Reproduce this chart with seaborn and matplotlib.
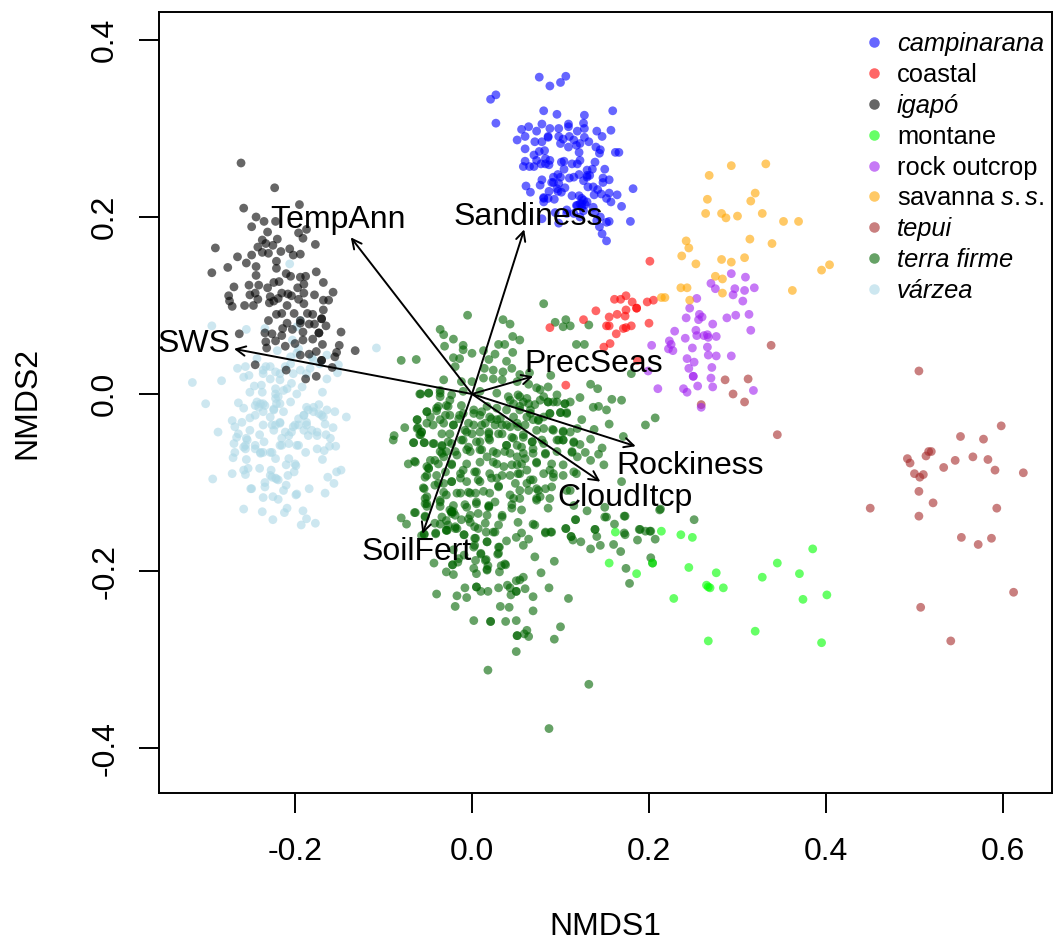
import pandas as pd
import matplotlib
matplotlib.use("Agg")
import matplotlib.pyplot as plt
import seaborn as sns

# punti (NMDS1, NMDS2)
campinarana = [(0.076,0.358),(0.088,0.348),(0.100,0.352),(0.106,0.359),(0.027,0.338),(0.021,0.333),(0.027,0.306),(0.081,0.320),(0.096,0.316),(0.127,0.315),(0.159,0.320),(0.079,0.305),(0.126,0.306),(0.109,0.305),(0.056,0.299),(0.064,0.302),(0.073,0.297),(0.088,0.300),(0.098,0.300),(0.109,0.302),(0.127,0.300),(0.141,0.297),(0.157,0.298),(0.051,0.287),(0.060,0.291),(0.071,0.285),(0.079,0.285),(0.086,0.290),(0.098,0.291),(0.110,0.291),(0.119,0.297),(0.147,0.291),(0.127,0.290),(0.132,0.285),(0.100,0.283),(0.109,0.279),(0.118,0.281),(0.140,0.279),(0.060,0.277),(0.076,0.274),(0.082,0.275),(0.145,0.276),(0.162,0.273),(0.166,0.273),(0.070,0.270),(0.121,0.273),(0.060,0.263),(0.083,0.266),(0.144,0.272),(0.058,0.257),(0.065,0.257),(0.070,0.257),(0.078,0.260),(0.087,0.259),(0.101,0.262),(0.104,0.263),(0.113,0.260),(0.119,0.260),(0.139,0.262),(0.104,0.254),(0.136,0.254),(0.150,0.254),(0.121,0.248),(0.097,0.248),(0.092,0.245),(0.110,0.244),(0.079,0.242),(0.130,0.245),(0.148,0.244),(0.155,0.242),(0.077,0.236),(0.092,0.239),(0.098,0.238),(0.105,0.233),(0.148,0.239),(0.061,0.235),(0.066,0.228),(0.131,0.234),(0.137,0.234),(0.182,0.232),(0.087,0.229),(0.097,0.229),(0.142,0.231),(0.146,0.226),(0.164,0.225),(0.081,0.222),(0.093,0.220),(0.113,0.224),(0.121,0.224),(0.155,0.227),(0.138,0.225),(0.152,0.221),(0.081,0.217),(0.126,0.219),(0.157,0.217),(0.169,0.212),(0.107,0.208),(0.118,0.213),(0.124,0.211),(0.137,0.211),(0.094,0.205),(0.139,0.205),(0.079,0.198),(0.107,0.204),(0.115,0.204),(0.126,0.207),(0.141,0.196),(0.155,0.195),(0.179,0.195),(0.098,0.193),(0.122,0.200),(0.144,0.189),(0.147,0.181),(0.152,0.173),(0.086,0.291),(0.130,0.247),(0.124,0.215),(0.119,0.213),(0.128,0.214),
    (0.103,0.288),(0.115,0.287),(0.122,0.283),(0.088,0.264),(0.122,0.264),(0.073,0.264),(0.100,0.245),(0.096,0.232),(0.101,0.228),(0.126,0.241),(0.133,0.247),(0.122,0.215),(0.130,0.217),(0.124,0.221),(0.145,0.200),(0.152,0.194),(0.081,0.221),(0.086,0.221),(0.115,0.245),(0.130,0.253),(0.083,0.260),(0.090,0.239)]
coastal = [(0.201,0.150),(0.161,0.107),(0.168,0.107),(0.174,0.111),(0.181,0.104),(0.198,0.104),(0.205,0.106),(0.140,0.094),(0.174,0.095),(0.186,0.097),(0.186,0.097),(0.164,0.090),(0.155,0.087),(0.173,0.088),(0.126,0.084),(0.152,0.077),(0.155,0.077),(0.171,0.074),(0.174,0.075),(0.180,0.077),(0.200,0.080),(0.088,0.075),(0.163,0.068),(0.156,0.057),(0.149,0.053),(0.187,0.038),(0.106,0.010)]
igapo = [(-0.261,0.261),(-0.223,0.233),(-0.258,0.210),(-0.195,0.214),(-0.244,0.200),(-0.235,0.195),(-0.222,0.195),(-0.249,0.189),(-0.196,0.182),(-0.187,0.186),(-0.191,0.176),(-0.231,0.183),(-0.237,0.174),(-0.220,0.175),(-0.177,0.169),(-0.290,0.165),(-0.242,0.166),(-0.233,0.170),(-0.225,0.168),(-0.265,0.155),(-0.249,0.157),(-0.237,0.160),(-0.230,0.159),(-0.216,0.161),(-0.206,0.164),(-0.194,0.158),(-0.202,0.157),(-0.221,0.150),(-0.255,0.148),(-0.276,0.143),(-0.294,0.137),(-0.244,0.144),(-0.244,0.134),(-0.221,0.142),(-0.210,0.136),(-0.205,0.133),(-0.176,0.138),(-0.188,0.133),(-0.194,0.132),(-0.168,0.126),(-0.269,0.121),(-0.252,0.123),(-0.241,0.123),(-0.231,0.120),(-0.218,0.127),(-0.224,0.126),(-0.190,0.124),(-0.197,0.120),(-0.215,0.114),(-0.208,0.113),(-0.157,0.115),(-0.275,0.111),(-0.251,0.112),(-0.245,0.114),(-0.228,0.110),(-0.190,0.114),(-0.178,0.112),(-0.274,0.105),(-0.242,0.107),(-0.229,0.103),(-0.219,0.108),(-0.204,0.111),(-0.196,0.107),(-0.168,0.106),(-0.162,0.106),(-0.190,0.102),(-0.271,0.099),(-0.257,0.100),(-0.247,0.100),(-0.224,0.105),(-0.209,0.100),(-0.168,0.095),(-0.221,0.090),(-0.215,0.091),(-0.201,0.091),(-0.186,0.091),(-0.180,0.090),(-0.170,0.085),(-0.170,0.085),(-0.230,0.083),(-0.194,0.083),(-0.209,0.080),(-0.184,0.079),(-0.178,0.079),(-0.165,0.077),(-0.214,0.074),(-0.194,0.080),(-0.148,0.070),(-0.263,0.068),(-0.234,0.069),(-0.226,0.068),(-0.215,0.066),(-0.203,0.073),(-0.191,0.070),(-0.173,0.069),(-0.173,0.069),(-0.222,0.060),(-0.233,0.059),(-0.191,0.061),(-0.180,0.062),(-0.169,0.056),(-0.150,0.055),(-0.132,0.049),(-0.211,0.054),(-0.232,0.052),(-0.200,0.057),(-0.176,0.048),(-0.153,0.047),(-0.194,0.044),(-0.184,0.045),(-0.155,0.042),(-0.170,0.038),(-0.170,0.038),(-0.245,0.033),(-0.158,0.030),(-0.210,0.027),(-0.176,0.020),(-0.188,0.017)]
montane = [(0.162,-0.156),(0.214,-0.155),(0.236,-0.159),(0.249,-0.162),(0.385,-0.175),(0.155,-0.191),(0.345,-0.191),(0.370,-0.203),(0.186,-0.203),(0.245,-0.196),(0.276,-0.202),(0.328,-0.207),(0.265,-0.216),(0.267,-0.218),(0.269,-0.219),(0.284,-0.219),(0.228,-0.231),(0.401,-0.227),(0.374,-0.232),(0.320,-0.268),(0.267,-0.279),(0.395,-0.281),(0.204,-0.191)]
rock_outcrop = [(0.293,0.136),(0.309,0.132),(0.270,0.125),(0.275,0.119),(0.297,0.119),(0.308,0.117),(0.319,0.120),(0.295,0.112),(0.306,0.105),(0.254,0.108),(0.246,0.097),(0.257,0.090),(0.256,0.084),(0.260,0.087),(0.242,0.086),(0.288,0.086),(0.298,0.089),(0.313,0.090),(0.272,0.079),(0.253,0.072),(0.315,0.072),(0.229,0.071),(0.254,0.066),(0.262,0.066),(0.266,0.067),(0.276,0.065),(0.267,0.064),(0.241,0.063),(0.223,0.060),(0.225,0.056),(0.203,0.055),(0.249,0.052),(0.266,0.053),(0.222,0.051),(0.227,0.049),(0.267,0.044),(0.276,0.043),(0.293,0.043),(0.243,0.040),(0.251,0.036),(0.271,0.030),(0.245,0.029),(0.199,0.026),(0.250,0.020),(0.250,0.020),(0.270,0.018),(0.255,0.009),(0.272,0.008),(0.210,0.006),(0.239,0.006),(0.243,0.002),(0.318,0.004),(0.259,-0.015)]
savanna = [(0.332,0.260),(0.293,0.258),(0.268,0.247),(0.320,0.227),(0.266,0.220),(0.315,0.218),(0.264,0.204),(0.282,0.204),(0.287,0.199),(0.300,0.201),(0.328,0.204),(0.352,0.195),(0.369,0.195),(0.314,0.175),(0.339,0.170),(0.242,0.173),(0.245,0.165),(0.237,0.156),(0.253,0.147),(0.282,0.152),(0.293,0.149),(0.308,0.154),(0.275,0.133),(0.283,0.130),(0.404,0.146),(0.395,0.140),(0.362,0.117),(0.283,0.114),(0.236,0.120),(0.243,0.120),(0.246,0.106),(0.214,0.109),(0.218,0.109)]
tepui = [(0.338,0.055),(0.286,0.016),(0.312,0.017),(0.295,0.000),(0.308,-0.009),(0.259,-0.012),(0.345,-0.046),(0.505,0.026),(0.598,-0.036),(0.552,-0.048),(0.578,-0.051),(0.519,-0.065),(0.516,-0.065),(0.513,-0.070),(0.492,-0.073),(0.495,-0.078),(0.566,-0.071),(0.546,-0.075),(0.583,-0.074),(0.533,-0.083),(0.591,-0.086),(0.623,-0.089),(0.500,-0.090),(0.510,-0.091),(0.506,-0.094),(0.505,-0.110),(0.450,-0.129),(0.521,-0.123),(0.593,-0.129),(0.505,-0.138),(0.553,-0.162),(0.587,-0.163),(0.572,-0.170),(0.612,-0.224),(0.507,-0.241),(0.541,-0.279)]
terra_firme = [(0.251,-0.142),(0.213,-0.130),(0.172,-0.138),(0.150,-0.139),(0.161,-0.147),(0.117,-0.142),(0.071,-0.148),(0.106,-0.152),(0.139,-0.153),(0.083,-0.156),(0.089,-0.156),(0.141,-0.161),(0.172,-0.157),(0.189,-0.153),(0.196,-0.155),(0.202,-0.155),(0.187,-0.165),(0.207,-0.164),(0.112,-0.161),(0.112,-0.161),(0.114,-0.165),(0.123,-0.167),(0.134,-0.175),(0.145,-0.171),(0.160,-0.170),(0.168,-0.178),(0.202,-0.185),(0.204,-0.191),(0.174,-0.197),(0.178,-0.214),(0.071,-0.184),(0.093,-0.189),(0.078,-0.202),(0.087,-0.219),(0.109,-0.231),(0.069,-0.245),(0.069,-0.229),(0.060,-0.220),(0.058,-0.207),(0.054,-0.210),(0.050,-0.211),(0.050,-0.162),(0.056,-0.157),(0.058,-0.171),(0.064,-0.164),(0.039,-0.166),(0.031,-0.173),(0.029,-0.181),(0.038,-0.193),(0.033,-0.194),(0.031,-0.201),(0.017,-0.198),(0.018,-0.194),(0.016,-0.187),(0.010,-0.181),(0.002,-0.197),(0.005,-0.203),(-0.021,-0.204),(-0.029,-0.201),(-0.022,-0.193),(-0.043,-0.191),(-0.016,-0.190),(-0.009,-0.182),(0.005,-0.218),(0.005,-0.218),(-0.008,-0.219),(0.010,-0.223),(0.018,-0.223),(0.030,-0.219),(0.040,-0.216),(0.043,-0.219),(0.050,-0.223),(0.050,-0.223),(0.044,-0.227),(-0.040,-0.226),(-0.017,-0.228),(-0.006,-0.230),(-0.019,-0.240),(0.032,-0.240),(0.042,-0.241),(0.002,-0.256),(0.021,-0.257),(0.021,-0.257),(0.038,-0.257),(0.050,-0.256),(0.100,-0.263),(0.062,-0.267),(0.059,-0.271),(0.064,-0.274),(0.051,-0.273),(0.051,-0.273),(0.093,-0.277),(0.050,-0.291),(0.018,-0.312),(0.132,-0.328),(0.087,-0.378),
    (0.081,0.102),(-0.005,0.089),(0.035,0.084),(0.043,0.079),(0.094,0.081),(0.106,0.084),(0.103,0.076),(0.111,0.077),(0.132,0.078),(-0.036,0.073),(-0.032,0.067),(-0.021,0.062),(0.046,0.065),(0.054,0.061),(-0.031,0.054),(-0.010,0.055),(0.000,0.046),(0.030,0.056),(0.037,0.056),(0.026,0.045),(0.046,0.047),(0.118,0.056),(0.127,0.056),(-0.080,0.038),(-0.063,0.039),(-0.021,0.041),(-0.014,0.040),(-0.010,0.050),(0.013,0.049),(0.019,0.039),(0.039,0.037),(-0.019,0.031),(0.014,0.029),(0.024,0.027),(0.035,0.025),(0.045,0.029),(0.054,0.022),(0.065,0.024),(0.089,0.021),(0.180,0.023),(-0.032,0.016),(-0.012,0.014),(0.000,0.014),(0.013,0.018),(0.024,0.017),(0.034,0.016),(0.051,0.014),(0.064,0.011),(0.073,0.007),(0.086,0.008),(0.134,0.011),(0.142,0.006),(-0.058,0.000),(-0.049,0.001),(-0.036,0.004),(-0.036,-0.003),(-0.023,-0.001),(-0.010,0.003),(0.009,0.003),(0.028,0.001),(0.041,-0.003),(0.052,-0.001),(0.062,-0.005),(0.077,0.005),(0.081,-0.003),(0.096,-0.001),(0.122,-0.004),(0.158,-0.006),(0.169,-0.007),(0.047,-0.011),(0.058,-0.009),(0.071,-0.012),(0.086,-0.009),(0.092,-0.009),(0.111,-0.009),(0.105,-0.011),(0.137,-0.015),(0.143,-0.014),(0.152,-0.018),(-0.029,-0.013),(-0.012,-0.013),(0.002,-0.018),(0.017,-0.014),(0.028,-0.016),(0.039,-0.018),(0.054,-0.014),(0.066,-0.018),(-0.040,-0.016),(-0.051,-0.020),(0.088,-0.022),(0.100,-0.021),(0.107,-0.022),(0.124,-0.029),(0.207,-0.027),(0.196,-0.035),(0.155,-0.034),(-0.047,-0.026),(-0.062,-0.029),(-0.025,-0.024),(-0.014,-0.024),(0.009,-0.024),(0.020,-0.026),(0.032,-0.028),(0.047,-0.026),(0.062,-0.026),(0.075,-0.030),(-0.021,-0.035),(-0.004,-0.033),(0.011,-0.035),(0.026,-0.035),(0.039,-0.035),(0.052,-0.037),(0.073,-0.041),(0.091,-0.040),(0.103,-0.042),(0.111,-0.043),(0.138,-0.040),(-0.076,-0.038),(-0.062,-0.039),(-0.057,-0.043),(-0.034,-0.045),(-0.025,-0.045),(-0.006,-0.043),(0.019,-0.045),(0.034,-0.045),(0.045,-0.049),(0.058,-0.049),(-0.088,-0.047),(-0.089,-0.052),(-0.058,-0.046),(-0.066,-0.055),(-0.054,-0.055),(-0.044,-0.056),(-0.034,-0.059),(-0.027,-0.054),(-0.010,-0.052),(0.005,-0.054),(0.020,-0.052),(0.039,-0.058),(0.051,-0.058),(0.068,-0.054),(0.081,-0.056),(0.098,-0.052),(0.103,-0.052),(0.115,-0.055),(0.122,-0.057),(0.134,-0.051),(0.171,-0.048),(0.147,-0.061),(0.143,-0.068),(0.128,-0.066),(0.113,-0.066),(0.083,-0.068),(0.069,-0.062),(0.058,-0.067),(0.051,-0.071),(0.037,-0.065),(0.024,-0.065),(0.009,-0.063),(-0.006,-0.063),(-0.019,-0.065),(-0.034,-0.067),(-0.047,-0.075),(-0.064,-0.077),(-0.072,-0.079),(0.149,-0.080),(0.134,-0.075),(0.090,-0.079),(0.073,-0.077),(0.056,-0.079),(0.045,-0.080),(0.028,-0.079),(0.009,-0.077),(-0.006,-0.079),(-0.023,-0.079),(-0.038,-0.079),(-0.049,-0.084),(-0.051,-0.092),(-0.030,-0.088),(-0.013,-0.090),(0.003,-0.088),(0.020,-0.090),(0.034,-0.092),(0.052,-0.090),(0.069,-0.097),(0.081,-0.090),(0.092,-0.090),(0.103,-0.092),(0.118,-0.090),(0.169,-0.099),(-0.055,-0.106),(-0.038,-0.101),(-0.023,-0.099),(-0.006,-0.099),(0.009,-0.099),(0.030,-0.104),(0.049,-0.101),(0.062,-0.101),(0.073,-0.107),(0.090,-0.105),(0.107,-0.109),(-0.051,-0.116),(-0.029,-0.114),(-0.013,-0.112),(-0.002,-0.112),(0.013,-0.110),(0.026,-0.122),(0.047,-0.118),(0.077,-0.116),(0.086,-0.129),(-0.051,-0.124),(-0.036,-0.122),(-0.023,-0.133),(-0.023,-0.133),(-0.023,-0.133),(0.005,-0.122),(0.019,-0.128),(0.045,-0.129),(0.056,-0.131),(0.073,-0.120),(0.115,-0.126),(0.130,-0.132),(0.150,-0.128),(-0.064,-0.134),(-0.080,-0.140),(-0.074,-0.147),(-0.053,-0.139),(-0.042,-0.146),(-0.029,-0.143),(-0.004,-0.141),(0.017,-0.137),(0.034,-0.139),(0.052,-0.145),(0.069,-0.147),(0.117,-0.142),(0.152,-0.139),(0.173,-0.138),(0.212,-0.131),(-0.057,-0.160),(-0.029,-0.154),(-0.019,-0.150),(0.003,-0.150),(0.026,-0.156),(0.083,-0.157),(0.090,-0.156),(0.106,-0.152),(0.139,-0.153),(0.173,-0.159),(0.190,-0.153),(0.201,-0.155),(-0.054,-0.158),(-0.041,-0.158),(-0.028,-0.154),(-0.019,-0.152),(-0.009,-0.159),(0.003,-0.163),(0.017,-0.167),(0.003,-0.171),(-0.021,-0.176),
    (-0.059,0.000),(-0.049,0.001),(-0.036,0.001),(-0.025,-0.007),(-0.038,-0.014),(-0.027,-0.014),(-0.051,-0.020),(-0.040,-0.019),(-0.030,-0.024),(-0.062,-0.029),(-0.051,-0.033),(-0.036,-0.029),(-0.021,-0.035),(-0.032,-0.033),(-0.061,-0.038),(-0.057,-0.043),(-0.059,-0.046),(-0.044,-0.035),(-0.015,-0.028),(-0.010,-0.022),(0.002,-0.022),(0.011,-0.020),(0.022,-0.028),(0.028,-0.029),(0.034,-0.035),(0.015,-0.033),(0.002,-0.035),(-0.008,-0.041),(0.000,-0.045),(0.009,-0.043),(0.019,-0.043),(0.030,-0.045),(0.043,-0.037),(0.051,-0.033),(0.060,-0.035),(0.075,-0.029),(0.066,-0.022),(0.054,-0.018),(0.043,-0.007),(0.054,-0.003),(0.064,-0.011),(0.077,-0.007),(0.086,-0.009),(0.096,-0.009),(0.105,-0.011),(0.088,-0.022),(0.100,-0.021),(0.107,-0.021),(0.081,-0.026),(0.069,-0.029),(0.092,-0.041),(0.103,-0.043),(0.119,-0.039),(0.081,-0.039),(0.096,-0.052),(0.103,-0.052),(0.115,-0.054),(0.113,-0.065),(0.119,-0.071),(-0.066,-0.055),(-0.054,-0.055),(-0.043,-0.056),(-0.034,-0.058),(-0.023,-0.056),(-0.012,-0.052),(-0.004,-0.060),(0.009,-0.054),(0.019,-0.050),(0.039,-0.058),(0.056,-0.060),(0.079,-0.052),(0.068,-0.054),(0.047,-0.050),(0.058,-0.046),(-0.029,-0.065),(-0.036,-0.065),(-0.017,-0.069),(-0.002,-0.065),(0.011,-0.063),(0.028,-0.067),(0.043,-0.067),(0.060,-0.073),(0.083,-0.067),(0.069,-0.067),(0.096,-0.065),(-0.065,-0.076),(-0.042,-0.075),(-0.032,-0.071),(-0.051,-0.082),(-0.049,-0.084),(-0.053,-0.094),(-0.040,-0.092),(-0.023,-0.080),(-0.010,-0.086),(0.005,-0.088),(0.017,-0.071),(0.024,-0.077),(0.036,-0.082),(0.051,-0.080),(0.062,-0.086),(0.073,-0.078),(0.088,-0.086),(0.103,-0.080),(0.115,-0.088),(0.092,-0.094),(0.066,-0.097),(0.054,-0.090),(0.043,-0.092),(0.028,-0.095),(0.022,-0.095),(0.007,-0.097),(-0.013,-0.095),(-0.023,-0.099),(-0.032,-0.101),(-0.042,-0.103),(-0.054,-0.107),(-0.032,-0.111),(-0.017,-0.112),(-0.004,-0.111),(0.004,-0.112),(0.020,-0.112),(0.030,-0.105),(0.043,-0.114),(0.054,-0.118),(0.073,-0.118),(0.083,-0.107),(0.088,-0.118),(0.075,-0.109),(-0.053,-0.118),(-0.036,-0.120),(-0.021,-0.126),(-0.006,-0.128),(0.019,-0.126),(0.064,-0.109),(0.054,-0.109),(0.111,-0.109),
    (-0.065,-0.134),(-0.053,-0.124),(-0.051,-0.127),(-0.053,-0.138),(-0.036,-0.127),(-0.034,-0.139),(-0.036,-0.147),(-0.027,-0.148),(-0.017,-0.152),(-0.029,-0.154),(-0.041,-0.157),(-0.054,-0.159),(-0.021,-0.133),(-0.023,-0.135),(-0.019,-0.137),(-0.025,-0.131),(-0.008,-0.125),(0.005,-0.124),(0.019,-0.127),(-0.002,-0.137),(0.007,-0.135),(-0.012,-0.142),(-0.002,-0.145),(0.007,-0.152),(0.015,-0.146),(0.016,-0.156),(0.024,-0.156),(0.030,-0.148),(0.034,-0.137),(0.045,-0.125),(-0.009,-0.159),(0.004,-0.163),(0.017,-0.167),(0.002,-0.173),(0.030,-0.173),(0.030,-0.180),(0.010,-0.180),(0.004,-0.188),(0.015,-0.188),(-0.015,-0.186),(-0.022,-0.193),(0.017,-0.199),(0.037,-0.192)]
varzea = [(-0.294,0.077),(-0.255,0.073),(-0.234,0.074),(-0.108,0.052),(-0.194,0.083),(-0.198,0.076),(-0.203,0.061),(-0.196,0.051),(-0.205,0.042),(-0.220,0.049),(-0.181,0.042),(-0.164,0.044),(-0.206,0.147),(-0.265,0.029),(-0.256,0.031),(-0.243,0.040),(-0.233,0.031),(-0.222,0.025),(-0.211,0.031),(-0.194,0.027),(-0.183,0.029),(-0.151,0.033),(-0.152,0.024),(-0.316,0.013),(-0.283,0.015),(-0.258,0.019),(-0.252,0.021),(-0.236,0.023),(-0.228,0.017),(-0.217,0.016),(-0.204,0.012),(-0.192,0.008),(-0.164,0.017),(-0.246,0.009),(-0.238,0.010),(-0.251,0.002),(-0.237,0.002),(-0.222,0.000),(-0.209,0.006),(-0.198,0.000),(-0.169,0.002),(-0.301,-0.011),(-0.264,-0.010),(-0.258,-0.016),(-0.245,-0.013),(-0.239,-0.011),(-0.234,-0.013),(-0.222,-0.005),(-0.217,-0.011),(-0.205,-0.009),(-0.187,-0.015),(-0.173,-0.012),(-0.164,-0.018),(-0.155,-0.020),(-0.142,-0.026),(-0.271,-0.030),(-0.251,-0.027),(-0.245,-0.024),(-0.236,-0.020),(-0.224,-0.018),(-0.213,-0.020),(-0.190,-0.024),(-0.179,-0.020),(-0.170,-0.024),(-0.268,-0.037),(-0.260,-0.032),(-0.236,-0.035),(-0.226,-0.035),(-0.217,-0.033),(-0.200,-0.035),(-0.187,-0.032),(-0.166,-0.034),(-0.157,-0.038),(-0.287,-0.043),(-0.264,-0.045),(-0.251,-0.041),(-0.240,-0.046),(-0.224,-0.041),(-0.211,-0.043),(-0.204,-0.043),(-0.190,-0.041),(-0.175,-0.043),(-0.165,-0.046),(-0.266,-0.049),(-0.255,-0.050),(-0.215,-0.050),(-0.185,-0.047),(-0.160,-0.050),(-0.269,-0.056),(-0.256,-0.058),(-0.235,-0.054),(-0.207,-0.056),(-0.198,-0.058),(-0.161,-0.059),(-0.154,-0.059),(-0.268,-0.066),(-0.256,-0.062),(-0.245,-0.058),(-0.239,-0.067),(-0.226,-0.066),(-0.217,-0.058),(-0.188,-0.066),(-0.175,-0.062),(-0.167,-0.064),(-0.270,-0.072),(-0.255,-0.074),(-0.222,-0.073),(-0.207,-0.073),(-0.169,-0.074),(-0.210,-0.080),(-0.199,-0.081),(-0.271,-0.090),(-0.258,-0.086),(-0.253,-0.084),(-0.240,-0.084),(-0.227,-0.086),(-0.201,-0.088),(-0.153,-0.088),(-0.148,-0.086),(-0.293,-0.096),(-0.256,-0.091),(-0.226,-0.094),(-0.219,-0.097),(-0.208,-0.092),(-0.163,-0.094),(-0.234,-0.100),(-0.210,-0.103),(-0.234,-0.105),(-0.250,-0.107),(-0.213,-0.109),(-0.184,-0.107),(-0.166,-0.112),(-0.156,-0.101),(-0.199,-0.114),(-0.236,-0.117),(-0.225,-0.116),(-0.219,-0.119),(-0.258,-0.130),(-0.237,-0.133),(-0.209,-0.129),(-0.212,-0.134),(-0.191,-0.132),(-0.225,-0.142),(-0.187,-0.141),(-0.177,-0.146),(-0.193,-0.148),
    (-0.243,-0.009),(-0.241,-0.015),(-0.236,-0.011),(-0.222,0.006),(-0.213,0.004),(-0.219,-0.003),(-0.221,-0.011),(-0.224,-0.017),(-0.228,-0.026),(-0.222,-0.035),(-0.217,-0.032),(-0.196,-0.028),(-0.190,-0.024),(-0.185,-0.018),(-0.179,-0.015),(-0.173,-0.022),(-0.168,-0.026),(-0.202,-0.037),(-0.196,-0.035),(-0.187,-0.035),(-0.181,-0.041),(-0.175,-0.047),(-0.239,-0.066),(-0.236,-0.066),(-0.228,-0.066),(-0.245,-0.062),(-0.254,-0.052),(-0.258,-0.060),(-0.215,-0.058),(-0.207,-0.047),(-0.196,-0.058),(-0.221,-0.096),(-0.228,-0.092),(-0.222,-0.095),(-0.200,-0.079),(-0.249,-0.107),(-0.198,-0.113),(-0.217,0.023),(-0.202,0.023),(-0.187,0.023),(-0.228,0.031),(-0.236,0.027),(-0.205,0.034),(-0.198,0.046),(-0.179,0.038),(-0.172,0.034)]

# ordine di disegno: varzea sotto, igapo sopra
gruppi = {
    "várzea": varzea, "terra firme": terra_firme, "tepui": tepui, "montane": montane,
    "coastal": coastal, "rock outcrop": rock_outcrop, "savanna s.s.": savanna,
    "campinarana": campinarana, "igapó": igapo,
}
legenda = ["campinarana", "coastal", "igapó", "montane", "rock outcrop",
           "savanna s.s.", "tepui", "terra firme", "várzea"]
colori = ["blue", "red", "black", "lime", "#a020f0", "orange", "brown", "darkgreen", "lightblue"]
corsivi = ["campinarana", "igapó", "tepui", "terra firme", "várzea"]

vettori = ["SWS", "TempAnn", "Sandiness", "PrecSeas", "Rockiness", "CloudItcp", "SoilFert"]
punte_x = [-0.269, -0.137, 0.059, 0.069, 0.185, 0.145, -0.056]
punte_y = [0.051, 0.177, 0.186, 0.020, -0.059, -0.099, -0.158]
etich_x = [-0.314, -0.151, 0.063, 0.138, 0.246, 0.173, -0.062]
etich_y = [0.056, 0.197, 0.200, 0.034, -0.081, -0.118, -0.178]

righe = []
for nome, punti in gruppi.items():
    for x, y in punti:
        righe.append({"NMDS1": x, "NMDS2": y, "habitat": nome})
df = pd.DataFrame(righe)

sns.set_style("white")
plt.rcParams["font.family"] = ["Liberation Sans", "DejaVu Sans"]
plt.rcParams["mathtext.fontset"] = "custom"
plt.rcParams["mathtext.rm"] = "Liberation Sans"
plt.rcParams["mathtext.it"] = "Liberation Sans:italic"
plt.rcParams["text.color"] = "black"

fig = plt.figure(figsize=(10.53, 9.42), dpi=100)
ax = fig.add_axes([159 / 1053, 1 - 793 / 942, 893 / 1053, 781 / 942])

sns.scatterplot(
    data=df, x="NMDS1", y="NMDS2", hue="habitat",
    hue_order=legenda, palette=colori,
    s=40, alpha=0.6, linewidth=0, ax=ax
)

ax.set_xlim(-0.3537, 0.6554)
ax.set_ylim(-0.4508, 0.4316)

# frecce dall'origine
for nome, px, py, ex, ey in zip(vettori, punte_x, punte_y, etich_x, etich_y):
    ax.annotate("", xy=(px, py), xytext=(0, 0),
                arrowprops=dict(arrowstyle="->", color="black", lw=1.4,
                                mutation_scale=17, shrinkA=0, shrinkB=0))
    ax.text(ex, ey, nome, ha="center", va="center", fontsize=23, color="black")

ax.set_xticks([-0.2, 0.0, 0.2, 0.4, 0.6])
ax.set_xticklabels(["-0.2", "0.0", "0.2", "0.4", "0.6"])
ax.set_yticks([-0.4, -0.2, 0.0, 0.2, 0.4])
ax.set_yticklabels(["-0.4", "-0.2", "0.0", "0.2", "0.4"], rotation=90, va="center")
ax.tick_params(axis="both", direction="out", length=14.4, width=1.4, color="black",
               labelsize=23, labelcolor="black", bottom=True, left=True)
ax.tick_params(axis="x", pad=17.5)
ax.tick_params(axis="y", pad=13.5)
ax.set_xlabel("NMDS1", fontsize=23, labelpad=32, color="black")
ax.set_ylabel("NMDS2", fontsize=23, labelpad=34.5, color="black")
for lato in ax.spines.values():
    lato.set_color("black")
    lato.set_linewidth(1.4)

etichette = [r"savanna $\it{s{.}s{.}}$" if n == "savanna s.s." else n for n in legenda]
maniglie = ax.get_legend_handles_labels()[0]
leg = ax.legend(maniglie, etichette, loc="upper left", bbox_to_anchor=(0.775, 0.9745),
                frameon=False, fontsize=18.4, markerscale=1.2, labelspacing=0.27,
                handlelength=1.8, handletextpad=0, borderpad=0, borderaxespad=0)
for testo, nome in zip(leg.get_texts(), legenda):
    testo.set_color("black")
    if nome in corsivi:
        testo.set_fontstyle("italic")

fig.savefig("out.png", dpi=100, facecolor="white")
